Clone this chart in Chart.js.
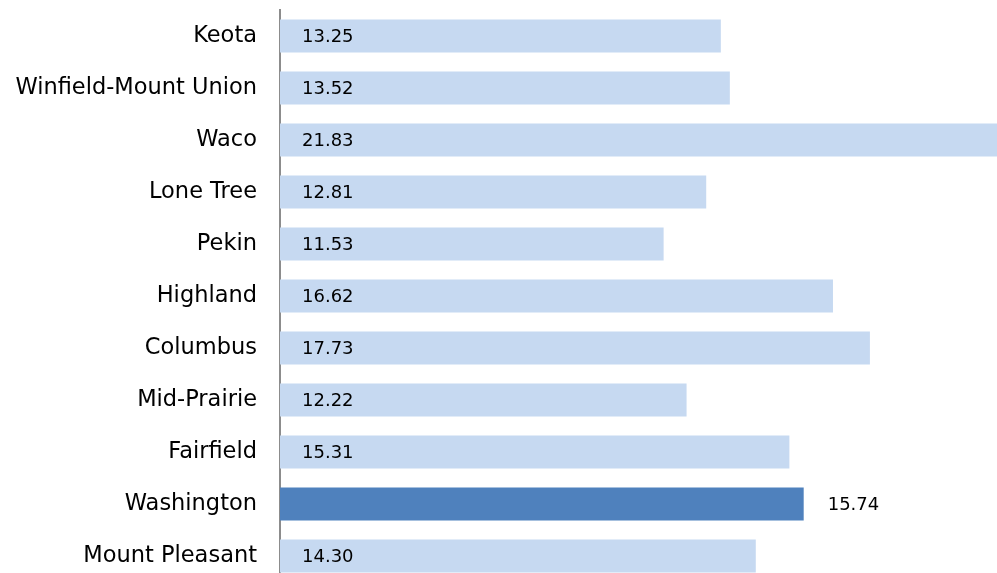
<!DOCTYPE html>
<html>
<head>
<meta charset="utf-8">
<script src="https://cdn.jsdelivr.net/npm/chart.js@4.4.1/dist/chart.umd.min.js"></script>
<style>
  html, body { margin: 0; padding: 0; overflow: hidden; background: #fff; }
  #wrap { position: relative; width: 997px; height: 582px; }
</style>
</head>
<body>
<div id="wrap"><canvas id="c"></canvas></div>
<script>
const categories = ["Keota", "Winfield-Mount Union", "Waco", "Lone Tree", "Pekin", "Highland", "Columbus", "Mid-Prairie", "Fairfield", "Washington", "Mount Pleasant"];
const values = [13.25, 13.52, 21.83, 12.81, 11.53, 16.62, 17.73, 12.22, 15.31, 15.74, 14.30];
const highlight = "Washington";

const FONT = "'DejaVu Sans', 'Open Sans', sans-serif";
const LIGHT = "#C6D9F1";
const DARK = "#4F81BD";

const valueLabels = {
  id: "valueLabels",
  afterDatasetsDraw(chart) {
    const ctx = chart.ctx;
    const meta = chart.getDatasetMeta(0);
    ctx.save();
    ctx.font = "18px " + FONT;
    ctx.fillStyle = "#000";
    ctx.textBaseline = "middle";
    ctx.textAlign = "left";
    meta.data.forEach((bar, i) => {
      const txt = values[i].toFixed(2);
      const x = categories[i] === highlight ? bar.x + 24 : bar.base + 22;
      ctx.fillText(txt, x, bar.y + 1);
    });
    ctx.restore();
  }
};

new Chart(document.getElementById("c"), {
  type: "bar",
  data: {
    labels: categories,
    datasets: [{
      data: values,
      backgroundColor: categories.map(c => c === highlight ? DARK : LIGHT),
      borderWidth: 0,
      barPercentage: 0.635,
      categoryPercentage: 1.0
    }]
  },
  options: {
    indexAxis: "y",
    responsive: true,
    maintainAspectRatio: false,
    animation: false,
    layout: { padding: { top: 10, left: 10, right: 0, bottom: 0 } },
    plugins: { legend: { display: false }, tooltip: { enabled: false } },
    scales: {
      x: { display: false, min: 0, max: 21.55 },
      y: {
        afterFit(scale) { scale.width = 270; scale.paddingTop = 0; scale.paddingBottom = 0; },
        grid: { display: false, drawTicks: false },
        border: { display: true, color: "#8C8C8C", width: 2 },
        ticks: { color: "#000", padding: 23, autoSkip: false, font: { family: FONT, size: 22.5 } }
      }
    }
  },
  plugins: [valueLabels]
});
</script>
</body>
</html>
